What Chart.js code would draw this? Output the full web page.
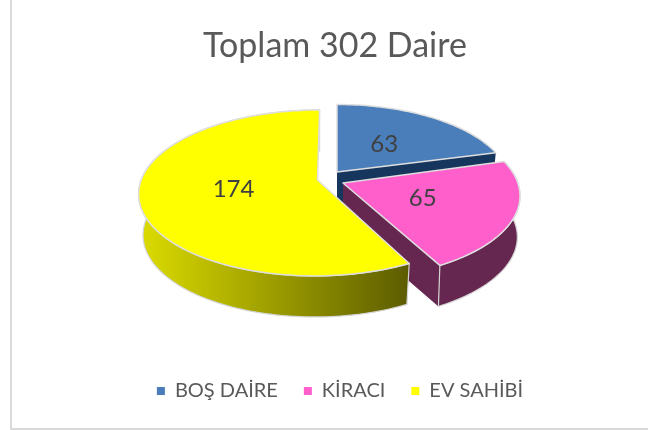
<!DOCTYPE html>
<html lang="tr">
<head>
<meta charset="utf-8">
<script src="https://cdn.jsdelivr.net/npm/chart.js@4"></script>
<style>
html,body{margin:0;padding:0;background:#fff;}
#card{position:relative;width:648px;height:430px;overflow:hidden;background:#fff;}
#card canvas{position:absolute;left:0;top:0;}
.edge{position:absolute;background:#d9d9d9;}
</style>
</head>
<body>
<div id="card">
<canvas id="c" width="648" height="430"></canvas>
<div class="edge" style="left:10px;top:0;width:2px;height:430px"></div>
<div class="edge" style="left:10px;top:428px;width:638px;height:2px"></div>
</div>
<script>
const chartTitle = "Toplam 302 Daire";
const categories = ["BOŞ DAİRE", "KİRACI", "EV SAHİBİ"];
const values = [63, 65, 174];
const faceColors = ["#4a7ebb", "#ff5fcb", "#ffff00"];
const wallColors = ["#17365d", "#65264f", null];

// Perspective of the tilted pie: one view per slice (exploded slices sit apart)
const perspective = 0.156;
const depth = 41;
const labelRadius = 0.48;
const views = [
  {ax: 337, ay: 172, rx: 173, ry: 80, turn: 0, shear: 0, narrow: 0.975, walls: {end: true}},
  {ax: 343, ay: 183, rx: 177, ry: 83, turn: -0.02, shear: 0, narrow: 0.985, walls: {outer: true, end: true}},
  {ax: 317.5, ay: 180, rx: 178.5, ry: 83, turn: 0, shear: -0.03, narrow: 0.975, walls: {outer: true}}
];

function project(v, theta, r, drop, narrow) {
  const k = perspective;
  const t = theta + v.turn;
  const x = r * Math.sin(t), y = -r * Math.cos(t);
  const d = 1 - k * y;
  const py = v.ay + k * v.ry + v.ry * (y - k) / d;
  return {
    x: v.ax + v.rx * narrow * x * Math.sqrt(1 - k * k) / d + v.shear * (py - v.ay),
    y: py + drop
  };
}
function rim(v, a, b, drop, narrow) {
  const pts = [], n = Math.max(8, Math.ceil(Math.abs(b - a) * 40));
  for (let i = 0; i <= n; i++) pts.push(project(v, a + (b - a) * i / n, 1, drop, narrow));
  return pts;
}
function polygon(ctx, pts) {
  ctx.beginPath();
  pts.forEach((p, i) => i ? ctx.lineTo(p.x, p.y) : ctx.moveTo(p.x, p.y));
  ctx.closePath();
}

const pie3d = {
  id: "pie3d",
  afterLayout(chart) {
    chart.legend.left += 5;
    chart.legend.right += 5;
  },
  beforeDatasetsDraw(chart) {
    const ctx = chart.ctx, arcs = chart.getDatasetMeta(0).data;
    ctx.save();
    ctx.lineJoin = "round";
    arcs.forEach((arc, i) => {
      const v = views[i];
      const a = arc.startAngle + Math.PI / 2, b = arc.endAngle + Math.PI / 2;
      const top = rim(v, a, b, 0, 1);
      const apex = {x: v.ax, y: v.ay};
      const apexLow = {x: v.ax, y: v.ay + depth};
      if (v.walls.end) {
        const e = top[top.length - 1];
        const eLow = project(v, b, 1, depth, v.narrow);
        polygon(ctx, [apex, e, eLow, apexLow]);
        ctx.fillStyle = wallColors[i];
        ctx.fill();
      }
      if (v.walls.outer) {
        const low = rim(v, a, b, depth, v.narrow);
        polygon(ctx, top.concat(low.slice().reverse()));
        if (wallColors[i]) {
          ctx.fillStyle = wallColors[i];
        } else {
          const g = ctx.createLinearGradient(v.ax - v.rx, 0, project(v, a, 1, 0, 1).x, 0);
          g.addColorStop(0, "#dcdc00");
          g.addColorStop(1, "#5c5c00");
          ctx.fillStyle = g;
        }
        ctx.fill();
        ctx.strokeStyle = "#d4d4d4";
        ctx.lineWidth = 1.2;
        ctx.stroke();
      }
      polygon(ctx, [apex].concat(top));
      ctx.fillStyle = faceColors[i];
      ctx.fill();
      ctx.strokeStyle = "#dedede";
      ctx.lineWidth = 1.5;
      ctx.stroke();
    });
    ctx.restore();
    return false;
  },
  afterDraw(chart) {
    const ctx = chart.ctx, arcs = chart.getDatasetMeta(0).data;
    ctx.save();
    ctx.font = "24px Lato";
    ctx.fillStyle = "#404040";
    ctx.textAlign = "center";
    ctx.textBaseline = "middle";
    arcs.forEach((arc, i) => {
      const mid = (arc.startAngle + arc.endAngle) / 2 + Math.PI / 2;
      const p = project(views[i], mid, labelRadius, 0, 1);
      ctx.fillText(String(values[i]), p.x, p.y);
    });
    ctx.restore();
  }
};

new Chart(document.getElementById("c"), {
  type: "pie",
  data: {
    labels: categories,
    datasets: [{data: values, backgroundColor: faceColors, borderWidth: 0}]
  },
  options: {
    responsive: false,
    animation: false,
    layout: {padding: {left: 22, top: 26, bottom: 19}},
    plugins: {
      tooltip: {enabled: false},
      title: {
        display: true,
        text: chartTitle,
        color: "#595959",
        font: {family: "Lato", size: 34, weight: "normal"},
        padding: {top: 0, bottom: 10}
      },
      legend: {
        position: "bottom",
        labels: {
          color: "#595959",
          font: {family: "Lato", size: 20},
          usePointStyle: true,
          pointStyle: "rect",
          boxWidth: 8,
          boxHeight: 8,
          padding: 26
        }
      }
    }
  },
  plugins: [pie3d]
});
</script>
</body>
</html>
